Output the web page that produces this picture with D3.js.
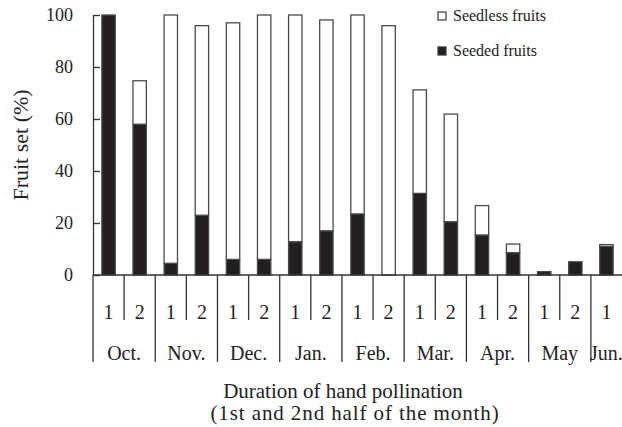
<!DOCTYPE html>
<html>
<head>
<meta charset="utf-8">
<script src="https://cdn.jsdelivr.net/npm/d3@7"></script>
<style>
  body { margin: 0; background: #fff; }
  text { font-family: "Liberation Serif", "Times New Roman", serif; fill: #222; }
</style>
</head>
<body>
<div id="chart"></div>
<script>
// data
var periods = ["Oct1", "Oct2", "Nov1", "Nov2", "Dec1", "Dec2", "Jan1", "Jan2", "Feb1", "Feb2",
               "Mar1", "Mar2", "Apr1", "Apr2", "May1", "May2", "Jun1"];
var halfLabels = ["1", "2", "1", "2", "1", "2", "1", "2", "1", "2", "1", "2", "1", "2", "1", "2", "1"];
var months = ["Oct.", "Nov.", "Dec.", "Jan.", "Feb.", "Mar.", "Apr.", "May", "Jun."];
var seeded = [100, 58, 4.5, 23, 6, 6, 12.8, 17, 23.5, 0, 31.4, 20.5, 15.4, 8.6, 1.3, 5.1, 11];
var seedless = [0, 16.7, 95.5, 72.9, 91, 94, 87.2, 81.1, 76.5, 95.9, 39.8, 41.4, 11.3, 3.3, 0, 0, 0.7];
var yTicks = [0, 20, 40, 60, 80, 100];

var svgWidth = 622;
var svgHeight = 427;

var margin = { top: 15, right: 0, bottom: 152, left: 93 };
var width = svgWidth - margin.left - margin.right;
var height = svgHeight - margin.top - margin.bottom;

var svg = d3.select("#chart")
  .append("svg")
  .attr("width", svgWidth)
  .attr("height", svgHeight);

var chartGroup = svg.append("g")
  .attr("transform", `translate(${margin.left}, ${margin.top})`);

// build rows for the stack
var rows = periods.map(function(p, i) {
  return { period: p, seeded: seeded[i], seedless: seedless[i] };
});
var series = d3.stack().keys(["seeded", "seedless"])(rows);

// scales
var xScale = d3.scaleBand()
  .domain(periods)
  .range([0, width])
  .paddingInner(0.57)
  .paddingOuter(0.285);

var yScale = d3.scaleLinear()
  .domain([0, 100])
  .range([height, 0]);

var colors = { seeded: "#231f20", seedless: "#ffffff" };

// bars
chartGroup.selectAll(".layer")
  .data(series)
  .enter()
  .append("g")
  .attr("class", "layer")
  .attr("fill", d => colors[d.key])
  .selectAll("rect")
  .data(d => d)
  .enter()
  .append("rect")
  .attr("x", d => xScale(d.data.period))
  .attr("y", d => yScale(d[1]))
  .attr("width", xScale.bandwidth())
  .attr("height", d => yScale(d[0]) - yScale(d[1]))
  .attr("stroke", "#4a4a4a")
  .attr("stroke-width", 1.3);

// y axis, ticks pointing inward
var leftAxis = d3.axisLeft(yScale)
  .tickValues(yTicks)
  .tickSizeInner(-7)
  .tickSizeOuter(0)
  .tickPadding(20);

var yAxisG = chartGroup.append("g").call(leftAxis);
yAxisG.selectAll("path, line").attr("stroke", "#333").attr("stroke-width", 1.3);
yAxisG.selectAll("text")
  .style("font-family", "Liberation Serif")
  .style("font-size", "18px")
  .attr("fill", "#222");

// x axis line
chartGroup.append("line")
  .attr("x1", 0)
  .attr("x2", width)
  .attr("y1", height)
  .attr("y2", height)
  .attr("stroke", "#333")
  .attr("stroke-width", 1.3);

// dividers under the axis: long between months, short between halves
var step = xScale.step();
var dividers = d3.range(0, periods.length);
chartGroup.selectAll(".divider")
  .data(dividers)
  .enter()
  .append("line")
  .attr("class", "divider")
  .attr("x1", i => i * step)
  .attr("x2", i => i * step)
  .attr("y1", height)
  .attr("y2", i => i % 2 === 0 ? height + 87 : height + 45)
  .attr("stroke", "#333")
  .attr("stroke-width", 1.3);

// half labels
chartGroup.selectAll(".halfText")
  .data(periods)
  .enter()
  .append("text")
  .attr("class", "halfText")
  .attr("x", d => xScale(d) + xScale.bandwidth() / 2)
  .attr("y", height + 44)
  .style("font-size", "20px")
  .style("text-anchor", "middle")
  .text((d, i) => halfLabels[i]);

// month labels
chartGroup.selectAll(".monthText")
  .data(months)
  .enter()
  .append("text")
  .attr("class", "monthText")
  .attr("x", (d, i) => i === months.length - 1 ? (2 * i + 0.5) * step : (2 * i + 1) * step)
  .attr("y", height + 85)
  .style("font-size", "20px")
  .style("text-anchor", "middle")
  .text(d => d);

// axis titles
svg.append("text")
  .attr("transform", "translate(28, 145) rotate(-90)")
  .style("font-size", "22px")
  .style("text-anchor", "middle")
  .text("Fruit set (%)");

svg.append("text")
  .attr("x", 343)
  .attr("y", 398)
  .style("font-size", "21px")
  .style("text-anchor", "middle")
  .text("Duration of hand pollination");

svg.append("text")
  .attr("x", 355)
  .attr("y", 420)
  .style("font-size", "21px")
  .style("letter-spacing", "0.9px")
  .style("text-anchor", "middle")
  .text("(1st and 2nd half of the month)");

// legend
var legendKeys = ["seedless", "seeded"];
var legendNames = ["Seedless fruits", "Seeded fruits"];
var legend = svg.selectAll(".legend")
  .data(legendKeys)
  .enter()
  .append("g")
  .attr("class", "legend")
  .attr("transform", (d, i) => `translate(438, ${12 + i * 35})`);

legend.append("rect")
  .attr("width", 8)
  .attr("height", 8)
  .attr("fill", d => colors[d])
  .attr("stroke", "#333")
  .attr("stroke-width", 1.2);

legend.append("text")
  .attr("x", 15)
  .attr("y", 8.5)
  .style("font-size", "16px")
  .text((d, i) => legendNames[i]);
</script>
</body>
</html>
